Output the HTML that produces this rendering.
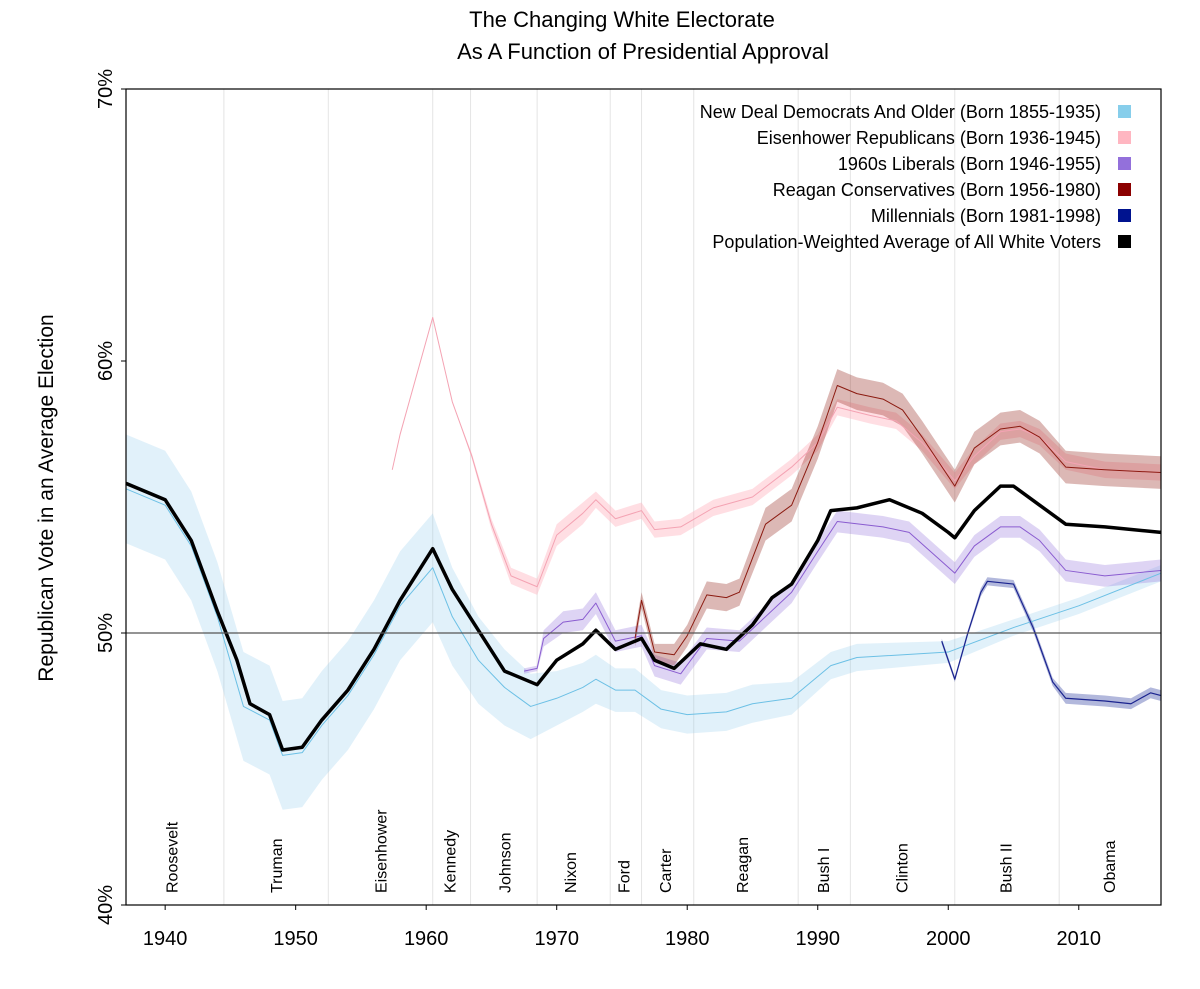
<!DOCTYPE html>
<html><head><meta charset="utf-8"><style>
body{margin:0;background:#fff;}
svg text{font-family:"Liberation Sans",sans-serif;}
</style></head><body>
<svg id="chart" width="1200" height="984" xmlns="http://www.w3.org/2000/svg">
<text x="622" y="27" font-size="22" text-anchor="middle">The Changing White Electorate</text>
<text x="643" y="59" font-size="22" text-anchor="middle">As A Function of Presidential Approval</text>
<text transform="translate(53,498) rotate(-90)" font-size="21" text-anchor="middle">Republican Vote in an Average Election</text>
<g id="grid"></g><g id="bands"></g><g id="lines"></g><g id="axes"></g><g id="legend"></g>
</svg>
<script>
const years=[1937,1940,1942,1944,1945.5,1946.5,1948,1949,1950.5,1952,1954,1956,1958,1960.5,1962,1964,1966,1968.5,1970,1972,1973,1974.5,1976.5,1977.5,1979,1981,1983,1985,1986.5,1988,1990,1991,1993,1995.5,1998,2000,2000.5,2002,2004,2005,2007,2009,2012,2016.3];
const avgVals=[55.5,54.9,53.4,50.8,49.0,47.4,47.0,45.7,45.8,46.8,47.9,49.4,51.2,53.1,51.6,50.1,48.6,48.1,49.0,49.6,50.1,49.4,49.8,49.0,48.7,49.6,49.4,50.3,51.3,51.8,53.4,54.5,54.6,54.9,54.4,53.7,53.5,54.5,55.4,55.4,54.7,54.0,53.9,53.7];
const ndYears=[1937,1940,1942,1944,1946,1948,1949,1950.5,1952,1954,1956,1958,1960.5,1962,1964,1966,1968,1970,1972,1973,1974.5,1976,1978,1980,1983,1985,1988,1991,1993,2000,2005,2010,2016.3];
const ndVals=[55.3,54.7,53.2,50.6,47.3,46.8,45.5,45.6,46.6,47.7,49.2,51.0,52.4,50.6,49.0,48.0,47.3,47.6,48.0,48.3,47.9,47.9,47.2,47.0,47.1,47.4,47.6,48.8,49.1,49.3,50.2,51.0,52.2];
const ndErr=[2.0,2.0,2.0,2.0,2.0,2.0,2.0,2.0,2.0,2.0,2.0,2.0,2.0,1.8,1.6,1.4,1.2,1.0,0.9,0.9,0.8,0.8,0.7,0.7,0.7,0.7,0.6,0.5,0.5,0.4,0.3,0.3,0.3];
const eiYears=[1957.4,1958,1960.5,1962,1963.5,1965,1966.5,1968.5,1970,1972,1973,1974.5,1976.5,1977.5,1979.5,1982,1985,1988,1990,1991.5,1994,1996,1998,2000.5,2002,2004,2005.5,2007,2009,2012,2016.3];
const eiVals=[56.0,57.3,61.6,58.5,56.5,54.0,52.1,51.7,53.6,54.4,54.9,54.2,54.5,53.8,53.9,54.6,55.0,56.1,57.0,58.3,58.0,57.8,57.0,55.6,56.5,57.4,57.5,57.2,56.3,56.0,55.9];
const eiErr=[0,0,0,0,0.1,0.2,0.3,0.3,0.4,0.4,0.3,0.3,0.3,0.3,0.3,0.3,0.3,0.3,0.3,0.3,0.3,0.3,0.3,0.3,0.3,0.3,0.3,0.3,0.3,0.3,0.3];
const lbYears=[1967.5,1968.5,1969,1970.5,1972,1973,1974.5,1976.5,1977.5,1979.5,1981.5,1984,1986,1988,1990,1991.5,1995,1997,2000.5,2002,2004,2005.5,2007,2009,2012,2016.3];
const lbVals=[48.6,48.7,49.8,50.4,50.5,51.1,49.7,49.9,48.8,48.5,49.8,49.7,50.6,51.5,53.0,54.1,53.9,53.7,52.2,53.2,53.9,53.9,53.4,52.3,52.1,52.3];
const lbErr=[0.1,0.1,0.3,0.4,0.4,0.4,0.4,0.4,0.4,0.4,0.4,0.4,0.4,0.4,0.4,0.4,0.4,0.4,0.4,0.4,0.4,0.4,0.4,0.4,0.4,0.4];
const rgYears=[1976,1976.5,1977.5,1979,1980,1981.5,1983,1984,1986,1988,1990,1991.5,1993,1995,1996.5,1998,2000.5,2002,2004,2005.5,2007,2009,2012,2016.3];
const rgVals=[49.8,51.2,49.3,49.2,49.9,51.4,51.3,51.5,54.0,54.7,57.0,59.1,58.8,58.6,58.2,57.2,55.4,56.8,57.5,57.6,57.2,56.1,56.0,55.9];
const rgErr=[0.3,0.3,0.3,0.4,0.4,0.5,0.5,0.5,0.6,0.6,0.6,0.6,0.6,0.6,0.6,0.6,0.6,0.6,0.6,0.6,0.6,0.6,0.6,0.6];
const mlYears=[1999.5,2000.5,2001.5,2002.5,2003,2005,2006.5,2008,2009,2012,2014,2015.5,2016.3];
const mlVals=[49.7,48.3,50.0,51.5,51.9,51.8,50.2,48.2,47.6,47.5,47.4,47.8,47.7];
const mlErr=[0.1,0.1,0.1,0.15,0.15,0.15,0.15,0.15,0.2,0.2,0.2,0.2,0.2];
const xTicks=[1940,1950,1960,1970,1980,1990,2000,2010];
const yTicks=[40,50,60,70];
const termStarts=[1944.5,1952.5,1960.5,1963.4,1968.5,1974.1,1976.5,1980.5,1988.5,1992.5,2000.5,2008.5];
const presidents=["Roosevelt","Truman","Eisenhower","Kennedy","Johnson","Nixon","Ford","Carter","Reagan","Bush I","Clinton","Bush II","Obama"];
const presMid=[1940.5,1948.5,1956.5,1961.8,1966,1971,1975.1,1978.3,1984.2,1990.4,1996.4,2004.4,2012.3];

const X0=126,X1=1161,Y0=905,Y1=89,xmin=1937,xmax=2016.3;
const sx=y=>X0+(y-xmin)/(xmax-xmin)*(X1-X0);
const sy=v=>Y0-(v-40)/30*(Y0-Y1);
const NS="http://www.w3.org/2000/svg";
function mk(tag,parent,attrs){const e=document.createElementNS(NS,tag);for(const k in attrs)e.setAttribute(k,attrs[k]);document.getElementById(parent).appendChild(e);return e;}

termStarts.forEach(t=>{const l=mk('line','grid',{x1:sx(t),x2:sx(t),y1:Y1,y2:Y0,stroke:'#e4e4e4','stroke-width':1});

});
presidents.forEach((p,i)=>{const t=mk('text','grid',{transform:`translate(${sx(presMid[i])+6},893) rotate(-90)`,'font-size':16});t.textContent=p;

});

function band(ys,vs,es,col,name){
 let d='';ys.forEach((y,i)=>{d+=(i?'L':'M')+sx(y)+','+sy(vs[i]+es[i]);});
 for(let i=ys.length-1;i>=0;i--)d+='L'+sx(ys[i])+','+sy(vs[i]-es[i]);
 const p=mk('path','bands',{d:d+'Z',fill:col,stroke:'none'});
 
 
}
function line(ys,vs,col,w,name){
 const d=ys.map((y,i)=>(i?'L':'M')+sx(y)+','+sy(vs[i])).join('');
 const p=mk('path','lines',{d:d,fill:'none',stroke:col,'stroke-width':w,'stroke-linejoin':'round'});
 
 
}
band(ndYears,ndVals,ndErr,'rgba(135,200,235,0.25)','new-deal');
band(eiYears,eiVals,eiErr,'rgba(255,182,193,0.45)','eisenhower');
band(lbYears,lbVals,lbErr,'rgba(147,112,219,0.3)','liberals-1960s');
band(rgYears,rgVals,rgErr,'rgba(139,20,10,0.3)','reagan');
band(mlYears,mlVals,mlErr,'rgba(0,20,140,0.3)','millennials');
line(ndYears,ndVals,'#6cc0e5',1,'new-deal');
line(eiYears,eiVals,'#f4a3b3',1,'eisenhower');
line(lbYears,lbVals,'#8a5cd0',1,'liberals-1960s');
line(rgYears,rgVals,'#8b1a10',1,'reagan');
line(mlYears,mlVals,'#1a238f',1.2,'millennials');
line(years,avgVals,'#000',3.5,'average');

const ref=mk('line','axes',{x1:X0,x2:X1,y1:sy(50),y2:sy(50),stroke:'#555','stroke-width':1.3});


const fr=mk('rect','axes',{x:X0,y:Y1,width:X1-X0,height:Y0-Y1,fill:'none',stroke:'#000','stroke-width':1.2});


xTicks.forEach(t=>{const l=mk('line','axes',{x1:sx(t),x2:sx(t),y1:Y0,y2:Y0+5,stroke:'#000'});


const tx=mk('text','axes',{x:sx(t),y:945,'font-size':20,'text-anchor':'middle'});tx.textContent=t;

});
yTicks.forEach(t=>{const l=mk('line','axes',{x1:X0-5,x2:X0,y1:sy(t),y2:sy(t),stroke:'#000'});


const tx=mk('text','axes',{transform:`translate(112,${sy(t)}) rotate(-90)`,'font-size':20,'text-anchor':'middle'});tx.textContent=t+'%';

});

const legLabels=["New Deal Democrats And Older (Born 1855-1935)","Eisenhower Republicans (Born 1936-1945)","1960s Liberals (Born 1946-1955)","Reagan Conservatives (Born 1956-1980)","Millennials (Born 1981-1998)","Population-Weighted Average of All White Voters"];
const legCols=["#87ceeb","#ffb6c1","#9370db","#8b0000","#00138f","#000"];
legLabels.forEach((s,i)=>{const y=112+i*26;
const t=mk('text','legend',{x:1101,y:y+6,'font-size':18,'text-anchor':'end'});t.textContent=s;


const r=mk('rect','legend',{x:1118,y:y-7,width:13,height:13,fill:legCols[i]});

});
</script>
</body></html>
